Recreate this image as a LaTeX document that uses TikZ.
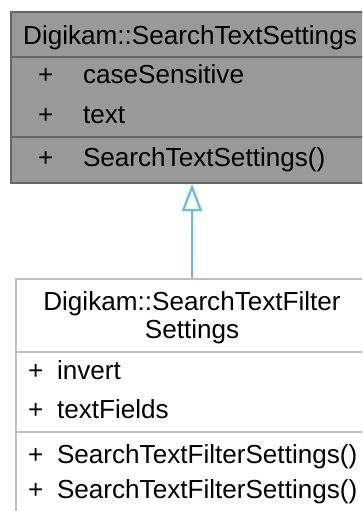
\documentclass[tikz,border=0pt]{standalone}
\usepackage{fontspec}
\setmainfont{Liberation Sans}
\usetikzlibrary{arrows.meta}
\definecolor{basefill}{HTML}{999999}
\definecolor{baseline}{HTML}{666666}
\definecolor{childline}{HTML}{BFBFBF}
\definecolor{inherit}{HTML}{63B8FF}
\tikzset{
  txt/.style={inner sep=0pt, outer sep=0pt, anchor=base west, font=\fontsize{26.1}{28}\selectfont},
  ctxt/.style={txt, anchor=base},
  topbox/.style={draw=baseline, fill=basefill, line width=2pt, inner sep=0pt, anchor=north west},
  childbox/.style={draw=childline, fill=white, line width=2pt, inner sep=0pt, anchor=north west},
  topsep/.style={draw=baseline, line width=2pt},
  childsep/.style={draw=childline, line width=2pt},
  inh/.style={draw=inherit, line width=2.2pt, -{Triangle[open, length=27pt, width=20pt, fill=white]}}
}
\begin{document}
\begin{tikzpicture}[x=1pt, y=-1pt]
\clip (0,0) rectangle (362,511);
\fill[white] (0,0) rectangle (362,511);
% base class
\node[topbox, minimum width=370pt, minimum height=171pt] (base) at (10,11) {};
\draw[topsep] (10,57.5) -- (380,57.5);
\draw[topsep] (10,136.5) -- (380,136.5);
\node[ctxt] (basetitle) at (190,45) {Digikam::SearchTextSettings};
\node[txt] (bp1) at (38,83.3) {+};
\node[txt] (ba1) at (83,83.3) {caseSensitive};
\node[txt] (bp2) at (38,123.3) {+};
\node[txt] (ba2) at (83,123.3) {text};
\node[txt] (bp3) at (38,166.7) {+};
\node[txt] (bm1) at (83,166.7) {SearchTextSettings()};
% derived class
\node[childbox, minimum width=370pt, minimum height=260pt] (child) at (15,278) {};
\draw[childsep] (15,352) -- (390,352);
\draw[childsep] (15,432) -- (390,432);
\node[ctxt] (childtitle1) at (192,310) {Digikam::SearchTextFilter};
\node[ctxt] (childtitle2) at (192,338) {Settings};
\node[txt] (cp1) at (28,379) {+};
\node[txt] (ca1) at (57,379) {invert};
\node[txt] (cp2) at (28,418) {+};
\node[txt] (ca2) at (57,418) {textFields};
\node[txt] (cp3) at (28,463) {+};
\node[txt] (cm1) at (57,463) {SearchTextFilterSettings()};
\node[txt] (cp4) at (28,498) {+};
\node[txt] (cm2) at (57,498) {SearchTextFilterSettings()};
% inheritance
\draw[inh] (child.north -| childtitle1) -- (base.south -| childtitle1);
\end{tikzpicture}
\end{document}
